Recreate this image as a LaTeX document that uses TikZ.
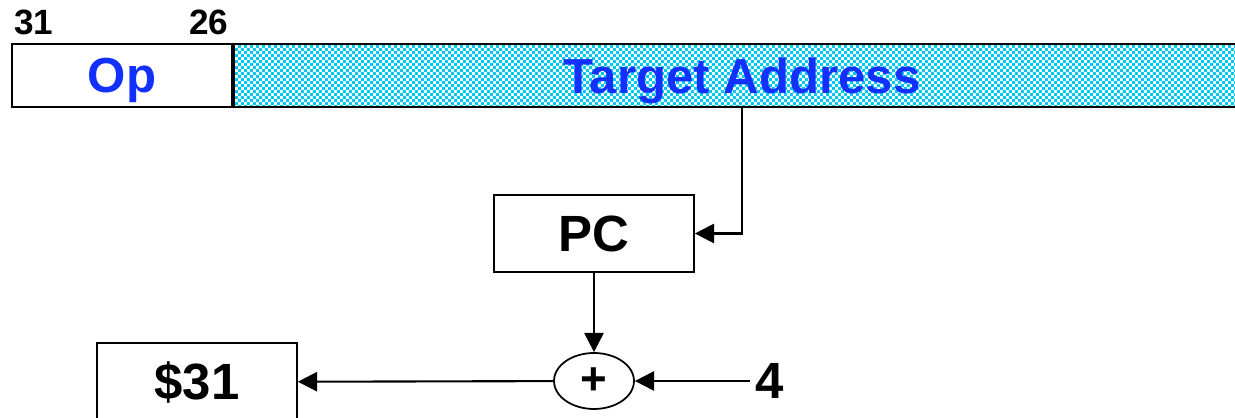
\documentclass[tikz,border=0pt]{standalone}
\usepackage{fontspec}
\setmainfont{Liberation Sans}
\usetikzlibrary{shapes.geometric,arrows.meta,patterns}
\definecolor{fieldblue}{HTML}{1230FF}
\definecolor{fieldcyan}{HTML}{00C8F0}

% fine checker used for the address field
\pgfdeclarepatternformonly{checker}{\pgfpointorigin}{\pgfpoint{3.4pt}{3.4pt}}{\pgfpoint{3.4pt}{3.4pt}}{%
  \pgfpathrectangle{\pgfpointorigin}{\pgfpoint{1.7pt}{1.7pt}}%
  \pgfpathrectangle{\pgfpoint{1.7pt}{1.7pt}}{\pgfpoint{1.7pt}{1.7pt}}%
  \pgfusepath{fill}}

\begin{document}
\begin{tikzpicture}[x=0.02cm, y=-0.02cm,
  field/.style={draw, line width=1.2pt, minimum height=1.26cm, inner sep=0pt,
    text depth=0pt, text=fieldblue, font=\fontsize{28}{30}\selectfont\bfseries},
  unit/.style={draw, line width=1pt, minimum width=4cm, inner sep=0pt,
    font=\fontsize{29}{32}\selectfont\bfseries},
  bitno/.style={font=\fontsize{20}{22}\selectfont\bfseries, inner sep=0pt},
  flow/.style={line width=1.2pt, -{Triangle[length=11pt,width=11pt]}}]

  \useasboundingbox (0,0) rectangle (1235,418);
  \clip (0,0) rectangle (1235,418);

  % instruction word: Op | Target Address (runs off the right edge)
  \node[field, minimum width=4.4cm] (op) at (122,75.5) {Op};
  \node[field, minimum width=20.32cm, anchor=west,
        pattern=checker, pattern color=fieldcyan] (target) at (op.east) {Target Address};
  \node[bitno] (b31) at (34,22) {31};
  \node[bitno] (b26) at (209,22) {26};

  % datapath
  \node[unit, minimum height=1.54cm] (pc) at (594,233.5) {PC};
  \node[ellipse, draw, line width=1pt, minimum width=1.6cm, minimum height=1.12cm,
        inner sep=0pt, font=\fontsize{26}{28}\selectfont\bfseries] (add) at (594,381) {+};
  \node[unit, minimum height=1.56cm] (ra) at (197,382) {\$31};
  \node[font=\fontsize{29}{32}\selectfont\bfseries] (four) at (770,381) {4};

  \draw[flow] (target.south) |- (pc.east);
  \draw[flow] (pc) -- (add);
  \draw[flow] (four) -- (add);
  \draw[flow] (add) -- (ra);
\end{tikzpicture}
\end{document}
